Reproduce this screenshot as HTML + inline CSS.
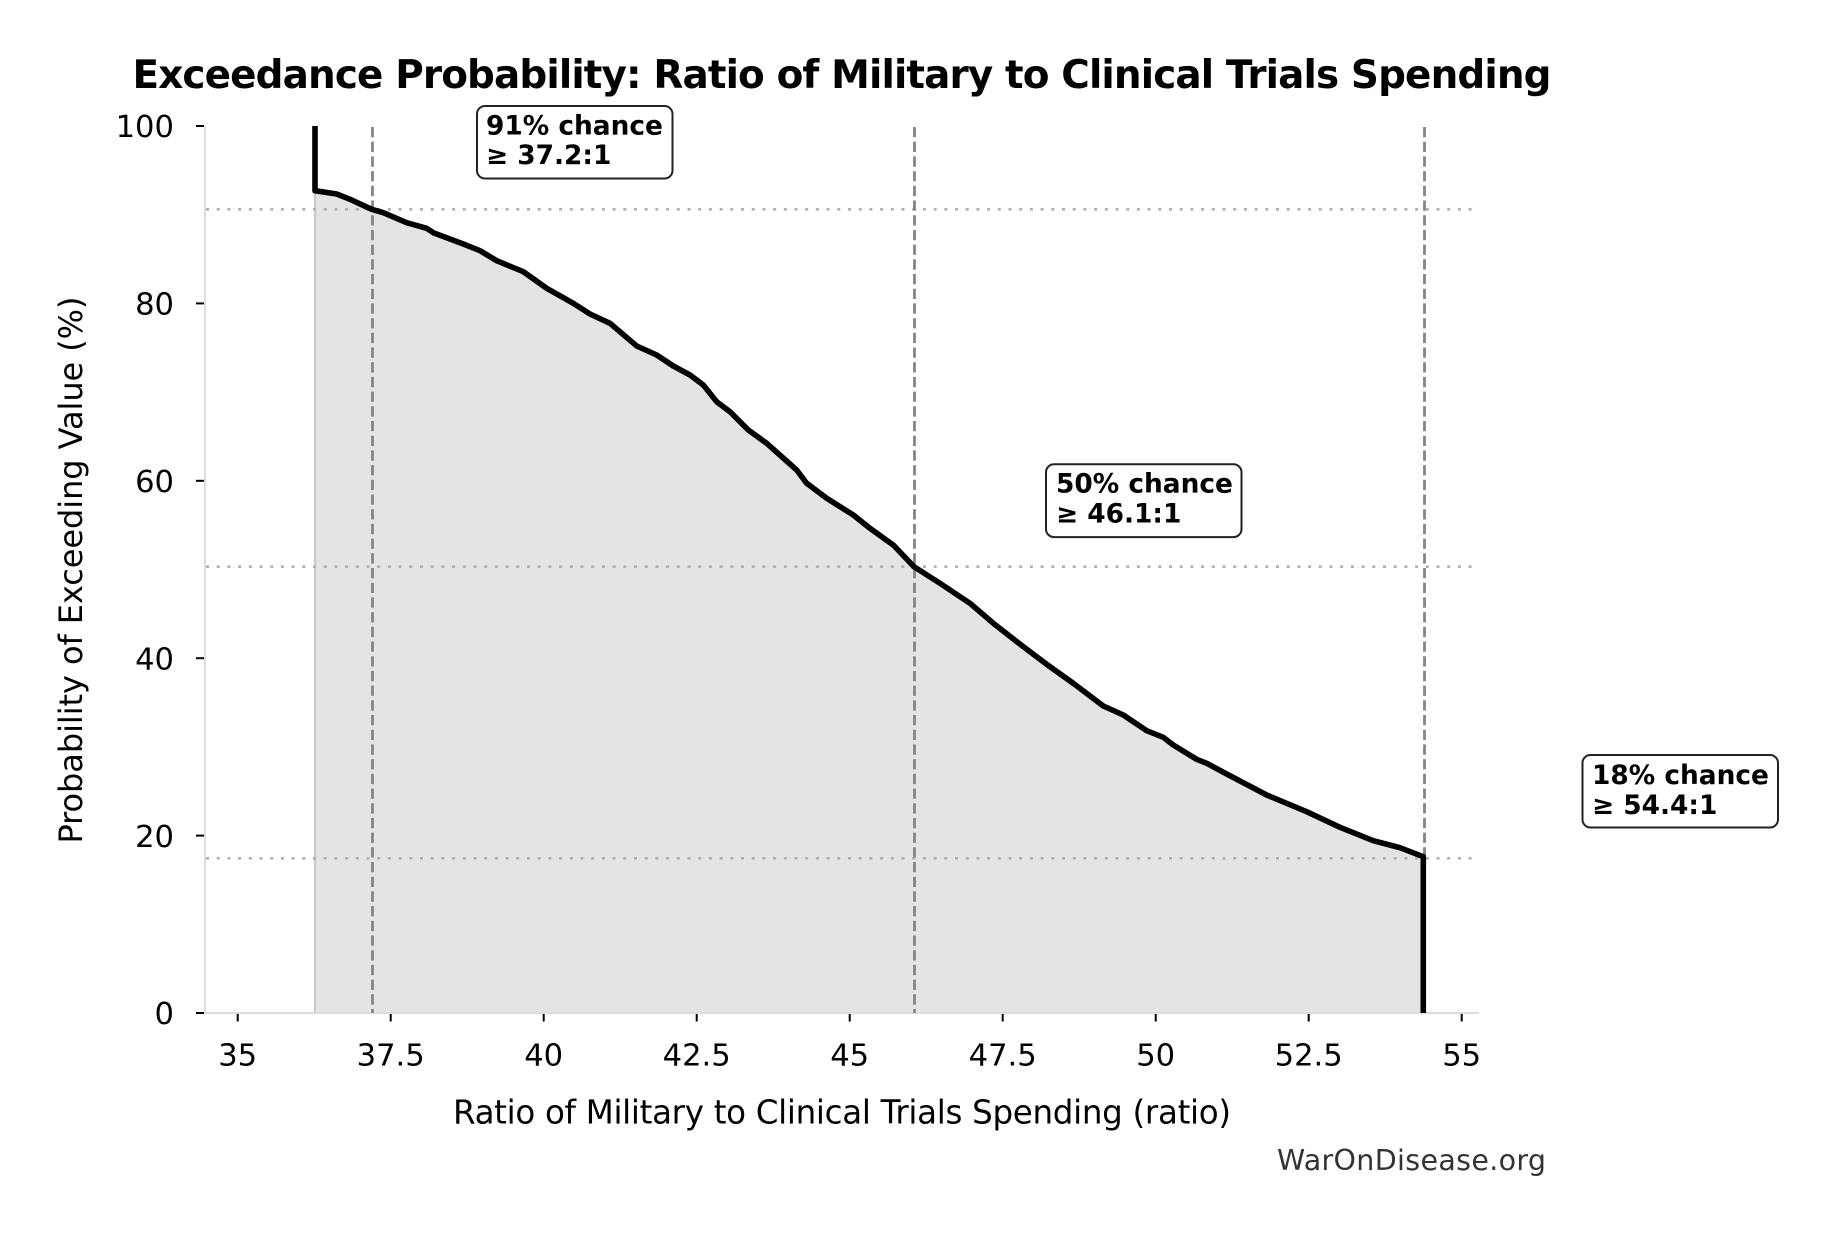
<!DOCTYPE html>
<html>
<head>
<meta charset="utf-8">
<style>
html,body{margin:0;padding:0;background:#fff;}
svg{display:block;}
text{font-family:"DejaVu Sans","Liberation Sans",sans-serif;}
</style>
</head>
<body>
<svg width="1826" height="1234" viewBox="0 0 1826 1234" xmlns="http://www.w3.org/2000/svg">
<rect width="1826" height="1234" fill="#fff"/>

<!-- Title -->
<text x="842" y="88" text-anchor="middle" font-size="38.9" font-weight="bold" fill="#000" textLength="1419">Exceedance Probability: Ratio of Military to Clinical Trials Spending</text>

<!-- Fill under curve -->
<polygon fill="#e4e4e4" points="315,1013 315,190.7 336.7,194 350,199.3 371.7,209.3 383.3,212.7 406.7,222.7 426.7,228.3 433.3,232.7 463.3,244 480,250.7 496.7,260.7 523.3,271.7 546.7,288.3 573.3,303.3 590,314 610,323.3 636.7,346 656.7,355 673.3,366 690,375 703.3,385 716.7,401.7 730,411.7 748.3,430 766.7,443.3 796.7,470 806.7,483.3 826.7,498.3 853.3,515 870,528.3 893.3,545 914,566.7 940,583.3 970,603.3 993.3,623.3 1023.3,646.7 1050,666.7 1073.3,683.3 1103.3,706 1123.3,715 1146.7,730.7 1163.3,737.3 1173.3,745 1196.7,759.3 1206.7,763.3 1226.7,774 1266.7,795 1306.7,811.7 1340,827.3 1373.3,840.7 1400,847.7 1423.3,856.7 1423.3,1013"/>
<line x1="315" y1="190" x2="315" y2="1013" stroke="#c8c8c8" stroke-width="2"/>

<!-- Spines -->
<line x1="205" y1="126" x2="205" y2="1014" stroke="#dddddd" stroke-width="2"/>
<line x1="204" y1="1013" x2="1479" y2="1013" stroke="#dddddd" stroke-width="2"/>

<!-- Dotted horizontal reference lines -->
<g stroke="#b0b0b0" stroke-width="2.6" stroke-dasharray="3 7.7">
<line x1="206" y1="209.3" x2="1479" y2="209.3"/>
<line x1="206" y1="566.7" x2="1479" y2="566.7"/>
<line x1="206" y1="858.3" x2="1479" y2="858.3"/>
</g>

<!-- Dashed vertical reference lines -->
<g stroke="#858585" stroke-width="2.8" stroke-dasharray="10.3 4.4">
<line x1="372.5" y1="127" x2="372.5" y2="1013"/>
<line x1="914.5" y1="127" x2="914.5" y2="1013"/>
<line x1="1424.5" y1="127" x2="1424.5" y2="1013"/>
</g>

<!-- Main curve -->
<polyline fill="none" stroke="#000" stroke-width="5.6" stroke-linejoin="round" points="315,126 315,190.7 336.7,194 350,199.3 371.7,209.3 383.3,212.7 406.7,222.7 426.7,228.3 433.3,232.7 463.3,244 480,250.7 496.7,260.7 523.3,271.7 546.7,288.3 573.3,303.3 590,314 610,323.3 636.7,346 656.7,355 673.3,366 690,375 703.3,385 716.7,401.7 730,411.7 748.3,430 766.7,443.3 796.7,470 806.7,483.3 826.7,498.3 853.3,515 870,528.3 893.3,545 914,566.7 940,583.3 970,603.3 993.3,623.3 1023.3,646.7 1050,666.7 1073.3,683.3 1103.3,706 1123.3,715 1146.7,730.7 1163.3,737.3 1173.3,745 1196.7,759.3 1206.7,763.3 1226.7,774 1266.7,795 1306.7,811.7 1340,827.3 1373.3,840.7 1400,847.7 1423.3,856.7 1423.3,1013"/>

<!-- Y ticks -->
<g stroke="#000" stroke-width="2">
<line x1="196" y1="1013" x2="204" y2="1013"/>
<line x1="196" y1="835.6" x2="204" y2="835.6"/>
<line x1="196" y1="658.2" x2="204" y2="658.2"/>
<line x1="196" y1="480.8" x2="204" y2="480.8"/>
<line x1="196" y1="303.4" x2="204" y2="303.4"/>
<line x1="196" y1="126" x2="204" y2="126"/>
</g>
<g font-size="30.6" fill="#000" text-anchor="end">
<text x="174" y="1024.2">0</text>
<text x="174" y="846.8">20</text>
<text x="174" y="669.4">40</text>
<text x="174" y="492">60</text>
<text x="174" y="314.6">80</text>
<text x="174" y="137.2">100</text>
</g>

<!-- X ticks -->
<g stroke="#000" stroke-width="2">
<line x1="237.7" y1="1014" x2="237.7" y2="1021.5"/>
<line x1="390.7" y1="1014" x2="390.7" y2="1021.5"/>
<line x1="543.7" y1="1014" x2="543.7" y2="1021.5"/>
<line x1="696.7" y1="1014" x2="696.7" y2="1021.5"/>
<line x1="849.7" y1="1014" x2="849.7" y2="1021.5"/>
<line x1="1002.7" y1="1014" x2="1002.7" y2="1021.5"/>
<line x1="1155.7" y1="1014" x2="1155.7" y2="1021.5"/>
<line x1="1308.7" y1="1014" x2="1308.7" y2="1021.5"/>
<line x1="1461.7" y1="1014" x2="1461.7" y2="1021.5"/>
</g>
<g font-size="30.6" fill="#000" text-anchor="middle">
<text x="237.7" y="1065.7">35</text>
<text x="390.7" y="1065.7">37.5</text>
<text x="543.7" y="1065.7">40</text>
<text x="696.7" y="1065.7">42.5</text>
<text x="849.7" y="1065.7">45</text>
<text x="1002.7" y="1065.7">47.5</text>
<text x="1155.7" y="1065.7">50</text>
<text x="1308.7" y="1065.7">52.5</text>
<text x="1461.7" y="1065.7">55</text>
</g>

<!-- Axis labels -->
<text x="842" y="1123.3" text-anchor="middle" font-size="32.5" fill="#000" textLength="778">Ratio of Military to Clinical Trials Spending (ratio)</text>
<text transform="translate(82,570) rotate(-90)" x="0" y="0" text-anchor="middle" font-size="32" fill="#000" textLength="547">Probability of Exceeding Value (%)</text>

<!-- Annotation boxes -->
<g>
<rect x="477" y="106" width="195.5" height="72.5" rx="8" ry="8" fill="#fff" stroke="#222" stroke-width="2"/>
<text x="486" y="134.3" font-size="26.4" font-weight="bold" fill="#000">91% chance</text>
<text x="486" y="164" font-size="26.4" font-weight="bold" fill="#000">≥ 37.2:1</text>
</g>
<g>
<rect x="1046" y="464.3" width="195.5" height="72.8" rx="8" ry="8" fill="#fff" stroke="#222" stroke-width="2"/>
<text x="1056" y="492.7" font-size="26.4" font-weight="bold" fill="#000">50% chance</text>
<text x="1056" y="522.7" font-size="26.4" font-weight="bold" fill="#000">≥ 46.1:1</text>
</g>
<g>
<rect x="1582.5" y="755" width="195.5" height="72.5" rx="8" ry="8" fill="#fff" stroke="#222" stroke-width="2"/>
<text x="1592" y="784" font-size="26.4" font-weight="bold" fill="#000">18% chance</text>
<text x="1592" y="813.8" font-size="26.4" font-weight="bold" fill="#000">≥ 54.4:1</text>
</g>

<!-- Watermark -->
<text x="1546" y="1170" text-anchor="end" font-size="28.5" fill="#333" textLength="269">WarOnDisease.org</text>
</svg>
</body>
</html>
